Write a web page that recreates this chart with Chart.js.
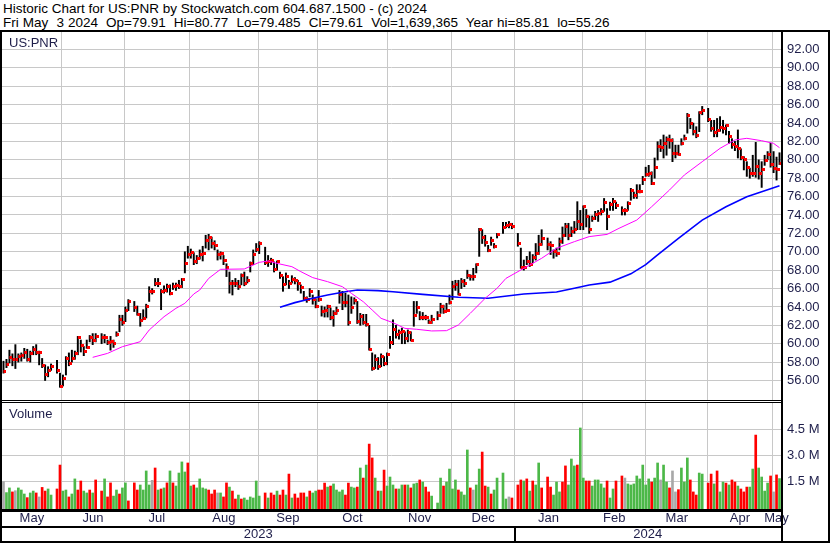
<!DOCTYPE html>
<html>
<head>
<meta charset="utf-8">
<script src="https://cdn.jsdelivr.net/npm/chart.js@4.4.1/dist/chart.umd.min.js"></script>
<style>
body { margin: 0; background: #fff; }
#wrap { position: relative; width: 830px; height: 543px; overflow: hidden; font-family: "Liberation Sans", Arial, sans-serif; }
#wrap canvas { position: absolute; left: 0; }
.t { position: absolute; white-space: pre; color: #000; }
.ln { position: absolute; background: #000; }
</style>
</head>
<body>
<div id="wrap">
  <canvas id="price" width="830" height="368" style="top:32px"></canvas>
  <canvas id="volume" width="830" height="143" style="top:400px"></canvas>

  <div class="t" style="left:3px;top:2px;font-size:13.5px;line-height:14px">Historic Chart for US:PNR by Stockwatch.com 604.687.1500 - (c) 2024</div>
  <div class="t" style="left:3px;top:16px;font-size:13.5px;line-height:14px;word-spacing:0.3px">Fri May  3 2024  Op=79.91  Hi=80.77  Lo=79.485  Cl=79.61  Vol=1,639,365  Year hi=85.81  lo=55.26</div>
  <div class="t" style="left:9px;top:36px;font-size:13px;line-height:13px;color:#1e1e4a">US:PNR</div>
  <div class="t" style="left:9px;top:407px;font-size:13px;line-height:13px;color:#1e1e4a">Volume</div>

  <!-- frame -->
  <div class="ln" style="left:0;top:30px;width:830px;height:2px"></div>
  <div class="ln" style="left:0;top:30px;width:2px;height:513px"></div>
  <div class="ln" style="left:781px;top:30px;width:2px;height:513px"></div>
  <div class="ln" style="left:828px;top:30px;width:2px;height:513px"></div>
  <div class="ln" style="left:0;top:400px;width:783px;height:1px"></div>
  <div class="ln" style="left:0;top:402px;width:783px;height:1px"></div>
  <div class="ln" style="left:0;top:509px;width:783px;height:3px"></div>
  <div class="ln" style="left:0;top:526px;width:783px;height:2px"></div>
  <div class="ln" style="left:0;top:541px;width:830px;height:2px"></div>
  <div class="ln" style="left:514px;top:528px;width:2px;height:13px"></div>
</div>

<script>
// one slot per weekday, 4 May 2023 .. 3 May 2024, null = market holiday
let hi = [
    // May 2023
    58.1,58.3,59.3,58.9,59.9,58.9,59.0,59.5,59.4,59.2,59.7,59.9,59.2,58.4,57.7,57.5,57.8,null,58.2,56.8,
    // Jun
    56.6,58.6,59.0,59.3,59.2,60.8,60.4,59.7,60.4,60.9,61.1,61.1,null,61.1,61.0,60.4,60.8,60.4,61.3,63.1,63.1,64.0,
    // Jul
    64.8,null,64.6,64.1,63.3,63.7,64.3,66.2,66.0,67.1,67.1,65.9,66.3,66.5,66.4,66.6,66.6,66.9,67.1,70.0,70.6,
    // Aug
    70.3,69.9,69.6,70.2,70.6,71.8,71.9,71.6,71.2,70.2,70.0,69.6,68.7,67.8,66.9,67.1,66.9,67.6,67.8,67.3,68.9,70.2,70.9,
    // Sep
    71.1,null,70.5,69.6,69.3,68.9,69.0,67.8,67.3,67.7,66.9,67.4,67.2,66.9,66.4,65.7,65.1,66.0,65.3,64.9,65.8,
    // Oct
    64.1,64.0,64.2,63.9,63.6,64.0,65.8,65.7,65.5,65.3,65.1,65.0,64.6,63.3,63.2,63.2,62.0,59.0,58.8,58.5,58.9,58.6,
    // Nov
    59.0,60.8,62.6,62.0,61.5,61.7,61.3,61.5,61.3,64.6,64.6,63.5,63.4,63.1,62.6,63.1,null,63.5,64.4,64.2,64.4,65.3,
    // Dec
    66.8,66.9,66.9,67.1,67.0,68.0,67.5,68.2,68.7,72.55,72.4,71.8,70.7,71.6,70.9,72.0,null,73.2,73.2,73.3,73.1,
    // Jan 2024
    null,72.0,70.4,69.1,69.5,70.0,69.7,70.9,71.8,72.4,null,71.5,71.1,70.2,70.4,71.5,72.7,73.1,73.1,72.7,73.3,75.45,74.5,
    // Feb
    75.0,74.6,73.9,73.9,74.4,74.5,74.7,75.8,74.7,75.4,75.8,75.4,null,74.9,74.7,75.45,76.9,76.5,77.3,77.3,78.2,
    // Mar
    79.2,79.4,78.7,80.2,81.97,82.2,82.7,82.5,82.7,82.3,81.6,81.6,82.3,82.7,85.05,84.5,84.0,83.6,85.24,85.81,null,
    // Apr
    85.6,84.3,84.3,84.5,84.7,84.3,83.8,83.1,82.3,82.0,83.25,81.2,80.35,79.8,79.1,80.5,81.9,80.0,79.8,80.5,80.9,81.8,
    // May
    80.9,80.3,80.77
]
let lo = [
    56.8,57.4,57.9,57.6,57.3,58.0,58.1,58.4,58.1,58.0,58.8,58.8,57.7,57.4,56.0,56.4,57.1,null,56.8,55.26,
    55.4,56.6,57.6,58.0,58.3,58.8,59.1,58.7,59.5,60.2,59.9,60.2,null,60.0,60.1,59.9,59.3,59.6,60.8,61.3,62.0,62.4,
    63.6,null,63.5,63.1,61.9,62.6,62.8,64.6,65.4,66.3,66.2,63.7,65.5,65.6,65.3,65.9,65.8,66.0,66.1,67.7,69.3,
    69.3,68.6,68.7,69.2,69.0,70.4,70.2,70.4,70.2,69.1,69.2,68.6,67.3,65.5,65.3,66.2,65.9,66.4,66.3,66.6,67.8,68.6,70.0,
    69.8,null,68.6,68.4,68.6,67.8,68.0,67.1,65.7,66.4,66.0,66.6,66.5,65.8,65.5,64.8,64.5,65.1,64.3,63.9,64.6,
    63.0,62.9,62.9,62.6,61.9,63.2,64.4,63.7,64.0,62.0,63.3,64.3,62.2,62.0,62.1,61.9,59.3,57.1,57.3,57.2,57.5,57.6,
    57.7,59.5,59.9,60.6,60.5,60.0,60.0,60.2,60.3,61.9,63.3,62.6,62.6,62.6,62.2,62.2,null,62.6,63.3,63.3,63.5,64.3,
    64.8,65.8,65.3,66.0,66.2,67.1,66.9,66.9,67.7,69.5,70.9,70.6,70.0,70.7,70.4,71.5,null,72.0,72.6,72.6,72.5,
    null,70.6,68.2,68.0,68.6,68.4,68.8,69.1,69.7,70.7,null,70.2,69.7,69.3,69.5,70.2,70.9,71.65,71.3,71.65,72.0,72.4,72.4,
    72.4,72.7,72.0,73.3,73.5,73.3,74.0,74.4,72.4,74.5,74.5,74.7,null,74.0,74.0,74.5,75.6,75.8,75.8,76.4,77.3,
    78.2,78.2,77.3,78.0,79.98,80.9,80.2,80.5,81.25,79.8,80.2,80.5,81.6,82.15,82.9,83.4,82.7,82.4,83.06,84.9,null,
    84.15,83.1,82.5,82.5,83.1,82.9,82.7,81.8,81.25,81.0,80.2,80.0,78.9,78.2,78.0,78.2,78.1,77.9,77.0,79.4,80.0,79.2,
    78.6,77.8,79.485
]
let cl = [
    57.0,57.7,58.5,58.3,58.3,58.6,58.7,59.0,58.3,58.9,59.4,59.0,59.0,57.6,56.6,57.1,57.5,null,57.1,55.3,
    56.2,58.4,57.9,58.4,58.9,60.7,59.8,59.1,59.6,60.7,60.4,60.8,null,60.7,60.7,60.1,60.2,60.0,61.0,62.6,62.3,63.6,
    64.6,null,63.9,63.2,62.5,62.7,64.1,65.7,65.7,66.6,66.6,65.7,65.8,66.2,65.5,66.2,66.3,66.2,67.0,68.7,69.7,
    69.9,68.9,69.3,69.7,69.8,71.2,71.6,70.9,70.7,69.7,69.8,69.0,68.3,66.5,66.5,66.6,66.2,67.4,66.6,66.9,68.7,69.7,70.2,
    70.9,null,68.8,68.9,69.0,68.1,68.9,67.4,66.4,67.3,66.6,67.0,66.9,66.5,66.1,64.9,64.8,65.7,64.8,64.0,64.8,
    63.5,63.6,64.0,62.8,63.3,63.6,65.3,64.5,64.5,62.3,63.9,64.7,62.4,63.0,62.3,62.1,59.4,57.3,58.3,57.5,58.6,57.9,
    58.8,60.1,61.5,61.0,61.2,61.3,60.6,61.2,60.4,63.1,63.9,62.8,62.9,62.9,62.3,62.6,null,63.1,64.0,63.5,63.6,64.5,
    66.2,66.4,65.3,66.8,66.6,67.4,67.3,67.3,68.6,72.4,71.5,71.0,70.1,71.2,70.6,71.9,null,72.6,72.9,73.0,72.7,
    null,70.9,68.3,68.3,68.9,68.6,69.4,69.8,70.8,71.4,null,70.8,70.7,70.0,69.8,71.1,71.8,72.7,71.8,72.2,72.4,73.3,73.0,
    74.9,73.8,72.4,73.6,74.1,74.2,74.4,75.4,73.8,75.1,75.5,75.0,null,74.5,74.5,75.3,76.7,76.1,76.6,76.6,77.9,
    78.4,78.5,77.4,79.2,81.5,81.3,81.8,82.2,82.1,80.7,80.7,80.6,81.8,82.3,84.8,84.0,83.1,82.6,85.1,85.4,null,
    84.4,83.4,83.0,83.2,83.5,83.4,83.7,82.5,81.7,81.5,81.2,80.3,80.0,79.2,78.5,78.5,79.3,78.5,79.0,79.9,80.6,79.5,
    79.1,78.9,79.61
]

// volume in millions
let vol = [
    1.46,0.83,1.10,0.87,0.94,1.10,0.98,0.75,0.54,0.81,0.92,0.81,0.58,1.13,0.92,1.04,0.69,null,1.04,2.42,
    0.92,0.98,0.58,0.75,1.62,0.98,1.50,0.92,0.81,0.98,0.81,1.56,null,0.92,1.62,0.58,1.39,0.63,0.98,0.75,1.10,1.39,
    0.35,null,1.39,0.98,1.27,0.98,2.08,1.27,1.54,2.25,0.98,1.04,1.10,1.39,2.08,1.39,1.21,1.96,2.60,2.02,2.54,
    1.21,1.27,1.10,1.62,1.10,1.04,0.98,0.75,0.98,0.81,0.81,0.58,1.39,1.15,0.92,0.46,0.69,0.46,0.52,0.40,0.58,0.52,1.50,
    0.63,null,0.81,0.52,0.81,0.69,0.92,0.69,0.98,0.69,1.90,0.52,0.75,0.52,0.81,0.81,0.58,0.92,0.81,0.92,0.98,
    0.98,1.38,1.15,1.21,1.33,0.98,0.87,0.98,0.69,1.38,1.15,1.10,1.15,2.25,1.67,2.42,3.63,2.83,1.67,0.92,0.92,2.13,
    1.21,1.73,1.27,1.04,1.04,1.27,1.27,1.27,1.10,1.33,1.38,1.56,1.44,1.15,0.87,0.63,null,0.23,1.67,1.21,1.44,2.19,
    1.04,1.56,0.98,0.87,0.69,3.29,1.10,0.98,1.27,2.19,3.17,1.21,1.15,0.75,0.98,1.67,null,1.96,0.46,0.58,0.52,
    null,1.27,1.56,1.50,1.62,0.92,1.50,1.27,2.54,1.10,null,1.73,1.15,0.69,1.44,0.87,1.44,2.37,1.27,2.77,2.37,2.42,4.56,
    1.67,1.50,1.50,1.21,1.56,1.56,1.33,1.10,1.50,0.52,1.04,1.50,null,1.79,1.67,1.33,1.27,1.33,1.79,1.62,2.42,
    1.27,1.62,1.44,1.67,2.54,1.56,2.42,1.44,1.10,2.08,0.87,1.00,2.25,1.44,2.83,1.56,0.87,0.69,1.96,1.90,null,
    1.38,1.90,1.33,2.08,0.87,1.44,1.38,1.27,1.56,1.44,1.21,1.04,0.87,1.15,1.15,2.19,4.15,2.25,1.73,0.92,1.38,1.79,
    0.87,1.85,1.64
]
// g = up day, r = down day, n = unchanged, . = holiday
let volDir = 'nggrngggrggrnrrgg.rr' + 'ggrggrrggrgr.rgrrggrgg' + 'r.rrggggnrgrgrgrggggr' +
    'grggggrrrngrrgrrgrggggg' + 'g.rgrrgrrgrgrrrrgrggr' + 'rrgrggggrrggrgrgrrgrgr' +
    'gggrggrgrggrgrrg.ggrgg' + 'ggrgggrnggrrgrgg.ggnr' + '.rrgrgrggr.rrgggrrgggrg' +
    'grrgggggrggr.rngggggg' + 'ggrggnggrnnrgggrrrgg.' + 'rrgrggrgrrgrrrggrggggr' + 'nrg'

// moving averages as plotted (slot, value)
let pinkAt = [30,35,40,46,49,54,58,61,64,66,69,73,81,86,89,92,97,100,104,109,114,117,121,124,127,131,135,139,144,149,153,157,162,166,169,175,181,186,192,197,203,207,213,218,224,229,235,241,246,250,255,259,261]
let pinkVal = [58.52,58.95,59.68,60.22,61.49,62.94,63.85,64.39,65.41,65.84,67.1,68.09,68.13,68.85,69.0,68.74,68.38,67.84,67.19,66.75,66.2,65.48,64.57,63.67,62.76,62.29,61.67,61.57,61.39,61.42,62.04,63.31,64.94,66.03,67.11,68.2,69.29,70.38,71.1,71.65,71.89,72.55,73.45,74.9,76.72,78.35,79.8,81.25,82.16,82.34,82.08,81.79,81.32]
let blueAt = [93,98,104,109,115,119,126,131,141,153,163,175,186,192,197,204,211,216,220,227,235,243,250,255,261]
let blueVal = [63.96,64.47,64.94,65.3,65.66,65.84,65.77,65.66,65.37,65.05,64.94,65.41,65.63,66.03,66.39,66.7,67.6,68.6,69.65,71.46,73.45,74.9,75.99,76.53,77.19]

// axis ticks
let monthGrid = [19.6,40.6,62.5,85.7,105.6,129.1,150.8,171.8,194.8,216,236.9,258.5]
let monthNames = ['May','Jun','Jul','Aug','Sep','Oct','Nov','Dec','Jan','Feb','Mar','Apr','May']
let yearNames = ['2023','2024']
let yearSplit = 171.8
let priceTicks = [56,58,60,62,64,66,68,70,72,74,76,78,80,82,84,86,88,90,92]
let volTicks = [1.5,3.0,4.5]

if (hi.length !== 262 || lo.length !== 262 || cl.length !== 262 || vol.length !== 262 || volDir.length !== 262) {
    throw new Error('length ' + hi.length + ' ' + lo.length + ' ' + cl.length + ' ' + vol.length + ' ' + volDir.length)
}

const FONT = '"Liberation Sans", Arial, sans-serif'
const GRID = '#c8c8c8'
const LABEL = '#1e1e4a'
const xMin = -0.5
const xMax = 261.5

// price panel: 92 sits 17.5px below top, 56 at 348.5px, panel 368px tall
const pxPerDollar = 331 / 36
const priceMax = 92 + 17.5 / pxPerDollar
const priceMin = 56 - 19.5 / pxPerDollar

// volume panel: 106px tall, zero 2px above the bottom, 6.0M at the top
const volMin = -2 * 6 / 104
const volMax = 6

let monthMid = []
let edges = [xMin].concat(monthGrid, [xMax])
for (let k = 0; k < edges.length - 1; k++) {
    monthMid.push((edges[k] + edges[k + 1]) / 2)
}
let yearMid = [(xMin + yearSplit) / 2, (yearSplit + xMax) / 2]

let rangePts = []
let closePts = []
let volPts = []
let volColors = []
let dirColor = { g: '#4cb848', r: '#ff0000', n: '#a8a8a8' }
for (let i = 0; i < 262; i++) {
    if (hi[i] !== null) {
        rangePts.push({ x: i, y: [lo[i], hi[i]] })
        closePts.push({ x: i, y: cl[i] })
    }
    if (vol[i] !== null) {
        volPts.push({ x: i, y: vol[i] })
        volColors.push(dirColor[volDir[i]])
    }
}
let pinkPts = pinkAt.map((s, k) => ({ x: s, y: pinkVal[k] }))
let bluePts = blueAt.map((s, k) => ({ x: s, y: blueVal[k] }))

// little red close mark sitting on the right of the bar
let tick = document.createElement('canvas')
tick.width = 6
tick.height = 3
let tctx = tick.getContext('2d')
tctx.fillStyle = '#ff0000'
tctx.fillRect(3, 0, 3, 3)

// no label overhang padding, the panels are laid out to the pixel
function noPad(s) {
    s.paddingTop = 0
    s.paddingBottom = 0
    s.paddingLeft = 0
    s.paddingRight = 0
}

function monthGridAxis() {
    return {
        type: 'linear', min: xMin, max: xMax, offset: false, weight: 0,
        grid: { color: GRID, offset: false, drawTicks: false },
        border: { display: false },
        ticks: { display: false },
        afterBuildTicks: function (s) { s.ticks = monthGrid.map(v => ({ value: v })) },
        afterFit: function (s) { s.height = 0; noPad(s) }
    }
}

new Chart(document.getElementById('price'), {
    type: 'bar',
    data: {
        datasets: [
            { type: 'line', data: pinkPts, borderColor: '#ff00ff', borderWidth: 1, pointRadius: 0, tension: 0 },
            { type: 'line', data: bluePts, borderColor: '#0000ff', borderWidth: 1.6, pointRadius: 0, tension: 0 },
            { type: 'scatter', data: closePts, pointStyle: tick, pointRadius: 2, showLine: false },
            { type: 'bar', data: rangePts, backgroundColor: '#000000', barThickness: 1.3, grouped: false, borderWidth: 0 }
        ]
    },
    options: {
        responsive: false,
        animation: false,
        devicePixelRatio: 1,
        layout: { autoPadding: false, padding: { left: 2, right: 0, top: 0, bottom: 0 } },
        plugins: { legend: { display: false }, tooltip: { enabled: false } },
        scales: {
            x: monthGridAxis(),
            y: {
                position: 'right', min: priceMin, max: priceMax,
                grid: { color: GRID, drawTicks: false },
                border: { display: false },
                ticks: { padding: 6, color: LABEL, font: { family: FONT, size: 13 }, callback: v => v.toFixed(2) },
                afterBuildTicks: function (s) { s.ticks = priceTicks.map(v => ({ value: v })) },
                afterFit: function (s) { s.width = 49; noPad(s) }
            }
        }
    }
})

new Chart(document.getElementById('volume'), {
    type: 'bar',
    data: {
        datasets: [{
            data: volPts, backgroundColor: volColors, barThickness: 2, grouped: false,
            borderWidth: 0, base: volMin, xAxisID: 'x', yAxisID: 'vy'
        }]
    },
    options: {
        responsive: false,
        animation: false,
        devicePixelRatio: 1,
        layout: { autoPadding: false, padding: { left: 2, right: 0, top: 3, bottom: 0 } },
        plugins: { legend: { display: false }, tooltip: { enabled: false } },
        scales: {
            x: monthGridAxis(),
            xm: {
                type: 'linear', position: 'bottom', min: xMin, max: xMax, offset: false, weight: 1,
                grid: { display: false, drawTicks: false },
                border: { display: false },
                ticks: { autoSkip: false, maxRotation: 0, padding: 2, color: LABEL, font: { family: FONT, size: 13 },
                         callback: (v, i) => monthNames[i] },
                afterBuildTicks: function (s) { s.ticks = monthMid.map(v => ({ value: v })) },
                afterFit: function (s) { s.height = 17; noPad(s) }
            },
            xy: {
                type: 'linear', position: 'bottom', min: xMin, max: xMax, offset: false, weight: 2,
                grid: { display: false, drawTicks: false },
                border: { display: false },
                ticks: { autoSkip: false, maxRotation: 0, padding: 1, color: LABEL, font: { family: FONT, size: 13 },
                         callback: (v, i) => yearNames[i] },
                afterBuildTicks: function (s) { s.ticks = yearMid.map(v => ({ value: v })) },
                afterFit: function (s) { s.height = 17; noPad(s) }
            },
            vy: {
                position: 'right', min: volMin, max: volMax,
                grid: { color: GRID, drawTicks: false },
                border: { display: false },
                ticks: { padding: 6, color: LABEL, font: { family: FONT, size: 13 }, callback: v => v.toFixed(1) + ' M' },
                afterBuildTicks: function (s) { s.ticks = volTicks.map(v => ({ value: v })) },
                afterFit: function (s) { s.width = 49; noPad(s) }
            }
        }
    }
})
</script>
</body>
</html>
